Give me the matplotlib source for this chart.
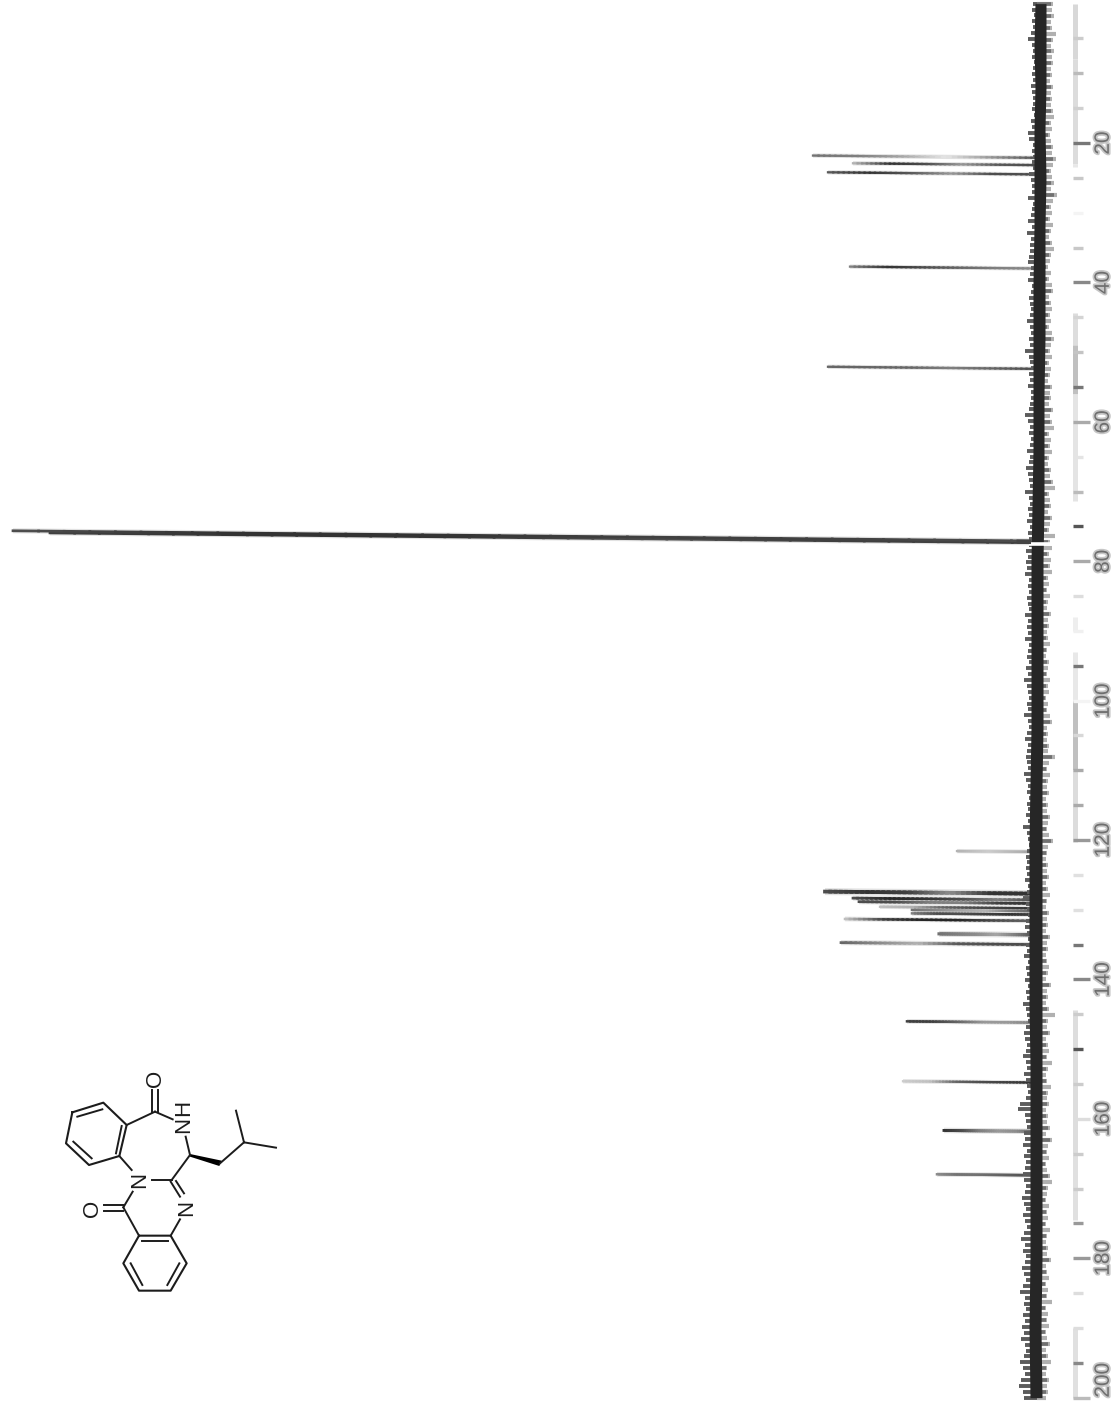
import numpy as np
import matplotlib
matplotlib.use('Agg')
import matplotlib.pyplot as plt
import matplotlib.patheffects as pe
from matplotlib.collections import LineCollection

plt.rcParams['font.family'] = ['Liberation Sans', 'DejaVu Sans']

# peaks: position (ppm), height (a.u.), grey level along the line from tip to base
peak_ppm = [22.12, 23.17, 24.5, 38.0, 52.4, 77.2, 77.35, 77.1, 121.7, 127.7, 128.6, 129.1, 129.8,
            130.2, 130.7, 131.6, 133.6, 135.0, 146.2, 154.8, 161.8, 168.1]
peak_height = [224, 184, 209, 187, 209, 930, 987, 1024, 80, 212, 184, 178, 157,
               125, 125, 192, 98, 196, 130, 134, 93, 100]
peak_grey = [[.45, .5, .65, .9, .6, .35], [.7, .2, .3, .6, .35, .3], [.35, .2, .35, .6, .3, .3],
             [.5, .2, .3, .4, .5, .55], [.4, .4, .4, .5, .4, .3],
             [.3, .25, .25, .3, .3, .3], [.25, .2, .2, .3, .25, .25], [.3, .2, .2, .25, .25, .3],
             [.7, .75, .8, .75, .7, .6], [.3, .2, .25, .55, .2, .2], [.3, .15, .2, .3, .5, .3],
             [.3, .3, .5, .5, .25, .2], [.75, .7, .4, .3, .25, .2], [.45, .55, .65, .7, .5, .4],
             [.5, .3, .3, .25, .2, .25], [.75, .25, .15, .15, .3, .4], [.45, .5, .55, .65, .5, .3],
             [.4, .55, .7, .35, .3, .3], [.25, .25, .4, .6, .6, .5], [.8, .75, .4, .3, .25, .2],
             [.2, .3, .5, .6, .55, .4], [.55, .45, .45, .4, .35, .3]]
peak_width = [2.2, 2.2, 2.2, 2.2, 2.2, 2.6, 2.6, 2.6, 2.2, 3.6, 2.6, 2.6, 2.2,
              2.4, 2.4, 2.4, 3.0, 2.6, 2.4, 2.2, 2.8, 2.4]

# baseline noise, read along the band from 0 to 200 ppm
noise_left = [4, 5, 3, 5, 4, 6, 9, 5, 4, 5, 3, 4, 5, 4, 6, 5, 4, 4, 5, 3, 6, 5, 9, 8, 4, 5, 4, 5, 4, 8, 6, 5,
              5, 9, 4, 5, 6, 9, 5, 10, 6, 7, 7, 8, 9, 6, 7,
              9, 5, 6, 8, 7, 6, 7, 10, 7, 6, 8, 7, 12, 8, 7, 6, 8, 7, 9, 6, 6, 7, 8, 12, 9, 7, 8, 6, 7, 10,
              7, 8, 11, 9, 8, 7, 12, 8, 7, 9, 8, 10, 7, 9, 8, 8, 11, 9, 11,
              10, 12, 8, 9, 8, 10, 9, 8, 12, 9, 10, 9, 12, 8, 9, 10, 8, 11, 9, 13, 10, 9, 8, 10, 9, 13, 9,
              8, 10, 12, 9, 10, 11, 10, 9, 13, 11, 9, 10, 8, 10, 9, 11, 9, 14, 10, 9, 8, 10, 11, 10,
              11, 10, 12, 9, 10, 14, 11, 10, 9, 11, 12, 10, 9, 11, 10, 13, 9, 11, 10, 12, 9, 11, 10, 14,
              11, 10, 9, 11, 13, 12, 10, 11, 14, 11, 10, 13, 11, 10, 9, 11, 17, 19, 12, 11, 10, 13,
              12, 14, 10, 13, 11, 12, 14, 13, 11, 12, 15, 13, 11, 14, 12, 10, 13, 16, 12, 14, 11, 12, 15,
              13, 11, 14, 17, 12, 13, 11, 14, 12, 15, 13, 16, 12, 11, 13, 17, 14, 12, 16, 18, 14, 13]
noise_right = [-14, -13, -15, -12, -13, -17, -14, -12, -15, -13, -14, -12, -13, -11, -14, -12, -13, -12,
               -14, -15, -12, -13, -11, -12, -14, -13, -17, -14, -12, -13, -15, -12, -18, -14, -12, -13,
               -11, -14, -12, -10, -13, -15, -12, -11, -9, -12, -10,
               -13, -14, -10, -12, -13, -11, -12, -10, -13, -15, -12, -11, -13, -10, -12, -11, -9, -13,
               -11, -12, -10, -14, -11, -13, -15, -10, -12, -11, -13, -10, -9, -12, -11, -14, -16, -10,
               -11, -12, -9, -13, -11, -10, -16, -11, -13, -10, -12, -11, -13,
               -9, -10, -8, -11, -9, -8, -12, -9, -10, -8, -9, -11, -8, -7, -10, -9, -8, -11, -9, -10, -7,
               -9, -8, -11, -13, -8, -9, -8, -10, -9, -16, -10, -8, -11, -9, -8, -10, -7, -9, -8, -11, -9,
               -8, -10, -14, -9, -8, -7, -9,
               -8, -10, -7, -9, -11, -8, -7, -10, -8, -9, -7, -11, -8, -9, -7, -8, -10, -9, -7, -12, -8,
               -9, -7, -10, -16, -9, -8, -11, -7, -9, -10, -8, -13, -9, -7, -8, -12, -9, -8, -10, -7, -9,
               -8, -11, -7, -13, -9,
               -8, -10, -7, -8, -11, -13, -9, -8, -7, -10, -8, -9, -7, -11, -8, -7, -9, -8, -12, -7, -8,
               -10, -7, -9, -8, -13, -7, -9, -8, -10, -7, -8, -11, -7, -9, -12, -8, -7, -10, -8, -9, -7]

# dark core of the band
core_ppm = [0, 6, 12, 18, 25, 32, 40, 48, 56, 64, 72, 80, 88, 96, 104, 112, 120, 128, 136, 144, 152, 160,
            170, 180, 190, 200]
core_left = [2, 3, 2, 3, 3, 3, 4, 4, 4, 4, 5, 6, 6, 6, 6, 7, 8, 8, 8, 8, 7, 7, 7, 7, 8, 7]
core_right = [-9, -9, -9, -8, -9, -8, -8, -8, -7, -7, -7, -6, -6, -6, -6, -5, -5, -5, -5, -5, -5, -5, -5,
              -5, -4, -5]

# ppm scale
major_ticks = [20, 40, 60, 80, 100, 120, 140, 160, 180, 200]
major_labels = ['20', '40', '60', '80', '100', '120', '140', '160', '180', '200']
major_grey = ['#777777', '#888888', '#aaaaaa', '#aaaaaa', '#f4f4f4', '#999999', '#888888', '#dddddd', '#999999', '#bbbbbb']
minor_ticks = [5, 10, 15, 25, 30, 35, 45, 50, 55, 65, 70, 75, 85, 90, 95, 105, 110, 115, 125, 130, 135,
               145, 150, 155, 165, 170, 175, 185, 190, 195]
minor_grey = ['#cccccc', '#bbbbbb', '#d0d0d0', '#c8c8c8', '#f4f4f4', '#c8c8c8', '#d4d4d4', '#c4c4c4', '#777777',
              '#e4e4e4', '#bbbbbb', '#555555', '#dddddd', '#f0f0f0', '#777777', '#d8d8d8', '#aaaaaa', '#aaaaaa',
              '#e0e0e0', '#e0e0e0', '#777777', '#cccccc', '#555555', '#cccccc', '#cccccc', '#cccccc', '#999999',
              '#dddddd', '#dddddd', '#888888']
rule_start = [0, 8, 23, 44.4, 49, 56, 88, 93, 100, 110, 144.4, 165, 190]
rule_end = [8, 23, 23.5, 49, 56, 71.4, 90, 100, 110, 120.3, 165, 174.5, 200]
rule_grey = ['#d8d8d8', '#dcdcdc', '#e8e8e8', '#dddddd', '#c0c0c0', '#e4e4e4', '#eeeeee', '#e8e8e8', '#c0c0c0',
             '#dcdcdc', '#dddddd', '#e0e0e0', '#e0e0e0']

# structure, in units of a 3x crop of the drawing
ring_a = [(97, 97), (190, 68), (260, 135), (238, 228), (147, 255), (78, 190), (97, 97)]
ring_b = [(297, 467), (392, 467), (440, 550), (392, 632), (297, 632), (250, 550), (297, 467)]
single_bonds = [((260, 135), (345, 95)), ((345, 95), (398, 118)), ((437, 170), (450, 225)),
                ((540, 250), (612, 187)), ((612, 187), (588, 92)), ((612, 187), (708, 203)),
                ((450, 225), (395, 300)), ((395, 300), (335, 300)), ((420, 418), (392, 467)),
                ((238, 228), (275, 270)), ((278, 335), (250, 382)), ((250, 382), (297, 467))]
inner_bonds = [((112, 110), (187, 88)), ((245, 138), (228, 220)), ((155, 235), (100, 185)),
               ((305, 483), (385, 483)), ((272, 550), (307, 615)), ((418, 550), (382, 615)),
               ((335, 30), (335, 95)), ((353, 30), (353, 95)), ((192, 375), (250, 375)), ((192, 392), (250, 392)),
               ((392, 305), (420, 350)), ((408, 303), (432, 340))]
wedge = [(450, 222), (545, 242), (538, 258), (450, 230)]
atom_labels = [('O', 348, -6), ('H', 432, 85), ('N', 432, 135), ('N', 300, 300), ('N', 440, 385), ('O', 157, 385)]

fig = plt.figure(figsize=(11.11, 14.06), dpi=100)
ax = fig.add_axes([0, 0, 1, 1])
ax.set_xlim(1037, -74)
ax.set_ylim(201.2, -0.52)
for s in ['top', 'left', 'bottom']:
    ax.spines[s].set_visible(False)
tilt = 0.01 / 6.97  # the scan is slightly skewed

# peaks, a pale halo under each stands in for the scan blur
for ppm, h, grey, w in zip(peak_ppm, peak_height, peak_grey, peak_width):
    t = np.linspace(1, 0, 41)
    xs = t * h
    ys = ppm - tilt * xs
    ax.plot(xs, ys, color='#e2e2e2', lw=w * 1.4, solid_capstyle='butt', zorder=1.5)
    pts = np.column_stack([xs, ys])
    segs = np.stack([pts[:-1], pts[1:]], axis=1)
    g = np.interp(np.linspace(0, 1, 40), np.linspace(0, 1, len(grey)), grey)
    lc = LineCollection(segs, colors=[(v, v, v) for v in g], linewidths=w * 0.75, capstyle='projecting', zorder=2)
    ax.add_collection(lc)

# baseline band
left_ppm = np.linspace(0, 200, len(noise_left))
right_ppm = np.linspace(0, 200, len(noise_right))
right_x = np.array(noise_right) - 2
ax.hlines(right_ppm, 0, right_x, color='#b0b0b0', lw=3.0, zorder=3)
ax.hlines(right_ppm[::2], 0, right_x[::2] * 0.85, color='#707070', lw=2.6, zorder=3.1)
ax.hlines(left_ppm, 0, noise_left, color='#5c5c5c', lw=2.8, zorder=3)
ax.fill_betweenx(core_ppm, core_left, core_right, color='#262626', lw=0, zorder=4)

# gap in the band beside the solvent peak
ax.hlines(77.55, -24, 8, color='white', lw=2.6, zorder=5)
for i in [5, 6, 7]:
    xs = np.array([peak_height[i] * 0.02, 6])
    ax.plot(xs, peak_ppm[i] - tilt * xs, color='#444444', lw=1.9, solid_capstyle='butt', zorder=6)

# ppm axis, the rule itself is broken up in the scan
ax.vlines([-38] * len(rule_start), rule_start, rule_end, colors=rule_grey, lw=3.6, zorder=1)
ax.spines['right'].set_position(('data', -36))
ax.spines['right'].set_visible(False)
ax.yaxis.tick_right()
ax.set_xticks([])
ax.set_yticks(major_ticks)
ax.set_yticklabels(major_labels, rotation=90, va='center', fontsize=15, color='#6e6e6e')
ax.set_yticks(minor_ticks, minor=True)
ax.tick_params(axis='y', which='major', length=12, width=2.4, pad=3)
ax.tick_params(axis='y', which='minor', length=7, width=2.4)
for tick, c in zip(ax.yaxis.get_major_ticks(), major_grey):
    tick.tick2line.set_markeredgecolor(c)
for tick, c in zip(ax.yaxis.get_minor_ticks(), minor_grey):
    tick.tick2line.set_markeredgecolor(c)
for lab in ax.get_yticklabels():
    lab.set_path_effects([pe.withStroke(linewidth=2.5, foreground='#c6c6c6')])
ax.get_yticklabels()[-1].set_va('bottom')

# structure
mol = fig.add_axes([40 / 1111, 1 - 1320 / 1406, 260 / 1111, 240 / 1406])
mol.set_xlim(0, 780)
mol.set_ylim(720, 0)
mol.axis('off')
mol.patch.set_alpha(0)
for ring in [ring_a, ring_b]:
    mol.plot([p[0] for p in ring], [p[1] for p in ring], color='#1c1c1c', lw=1.5, clip_on=False)
for a, b in single_bonds + inner_bonds:
    mol.plot([a[0], b[0]], [a[1], b[1]], color='#1c1c1c', lw=1.4, clip_on=False)
mol.fill([p[0] for p in wedge], [p[1] for p in wedge], color='black', lw=0)
for s, x, y in atom_labels:
    mol.text(x, y, s, rotation=90, ha='center', va='center', fontsize=16, color='#1c1c1c', clip_on=False)

fig.savefig('out.png', dpi=100)
